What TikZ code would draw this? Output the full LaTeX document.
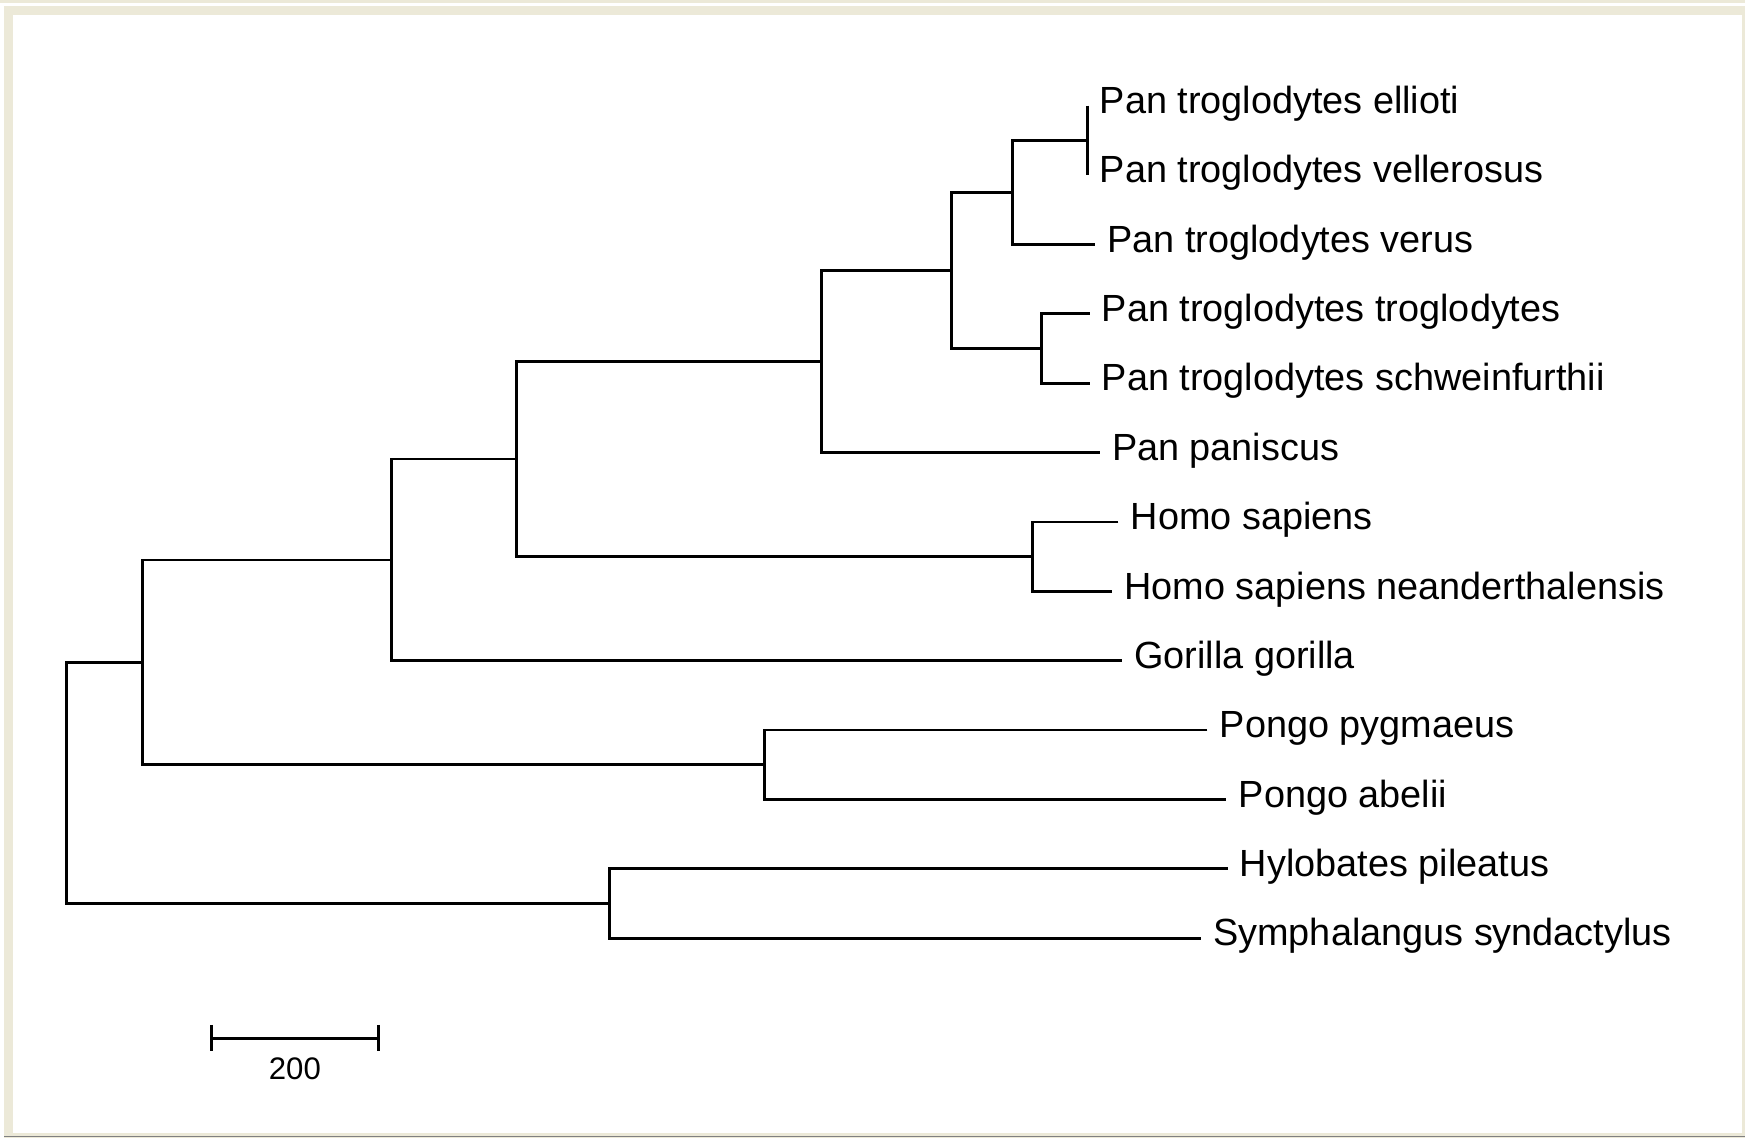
\documentclass[tikz,border=0pt]{standalone}
\usepackage{fontspec}
\setmainfont{Liberation Sans}
\definecolor{framebeige}{HTML}{ECE9D8}
\begin{document}
\begin{tikzpicture}[x=1pt,y=-1pt,
  branch/.style={line width=2.5pt, line join=miter},
  leaf/.style={anchor=west, inner xsep=11pt, inner ysep=0pt, text height=24pt, text depth=10pt, font=\fontsize{34}{40}\selectfont}
]
\useasboundingbox (0,0) rectangle (1568,1023);
\fill[white] (0,0) rectangle (1568,1023);
\fill[framebeige] (0,0) rectangle (1568,2.7);
\fill[framebeige] (3.6,5.4) rectangle (1568,1023);
\fill[white] (11.7,13.5) rectangle (1565.3,1018);
\draw[gray, line width=1pt] (3.6,1021.5) -- (1568,1021.5);

% leaves
\node[leaf] (ell) at (977,95) {Pan troglodytes ellioti};
\node[leaf] (vel) at (977,157.3) {Pan troglodytes vellerosus};
\node[leaf] (ver) at (984,219.7) {Pan troglodytes verus};
\node[leaf] (tro) at (979,282) {Pan troglodytes troglodytes};
\node[leaf] (sch) at (979,344.3) {Pan troglodytes schweinfurthii};
\node[leaf] (pan) at (988,406.7) {Pan paniscus};
\node[leaf] (hom) at (1005,469) {Homo sapiens};
\node[leaf] (nea) at (999,531.3) {Homo sapiens neanderthalensis};
\node[leaf] (gor) at (1008,593.7) {Gorilla gorilla};
\node[leaf] (pyg) at (1085,656) {Pongo pygmaeus};
\node[leaf] (abe) at (1102,718.3) {Pongo abelii};
\node[leaf] (hyl) at (1103,780.7) {Hylobates pileatus};
\node[leaf] (sym) at (1079,843) {Symphalangus syndactylus};

% internal nodes
\coordinate (n7) at (977,126.2);
\coordinate (n6) at (910,172.9);
\coordinate (n8) at (936,313.2);
\coordinate (n5) at (855,243);
\coordinate (n4) at (738,324.8);
\coordinate (n9) at (928,500.2);
\coordinate (n3) at (464,412.5);
\coordinate (n2) at (352,503.1);
\coordinate (n10) at (687,687.2);
\coordinate (n1) at (128,595.1);
\coordinate (n11) at (548,811.8);
\coordinate (root) at (60,703.5);

% branches
\draw[branch] (ell.west) -- (vel.west);
\draw[branch] (n7) -| (n6) |- (ver.west);
\draw[branch] (tro.west) -| (n8) |- (sch.west);
\draw[branch] (n6) -| (n5) |- (n8);
\draw[branch] (n5) -| (n4) |- (pan.west);
\draw[branch] (hom.west) -| (n9) |- (nea.west);
\draw[branch] (n4) -| (n3) |- (n9);
\draw[branch] (n3) -| (n2) |- (gor.west);
\draw[branch] (pyg.west) -| (n10) |- (abe.west);
\draw[branch] (n2) -| (n1) |- (n10);
\draw[branch] (hyl.west) -| (n11) |- (sym.west);
\draw[branch] (n1) -| (root) |- (n11);

% scale bar
\coordinate (sbL) at (190,933);
\coordinate (sbR) at (340,933);
\draw[branch] (sbL) -- (sbR);
\draw[branch] ([yshift=12pt]sbL) -- ([yshift=-11pt]sbL);
\draw[branch] ([yshift=12pt]sbR) -- ([yshift=-11pt]sbR);
\node[font=\fontsize{28}{32}\selectfont, inner sep=0pt] (sbt) at (265,960) {200};
\end{tikzpicture}
\end{document}
